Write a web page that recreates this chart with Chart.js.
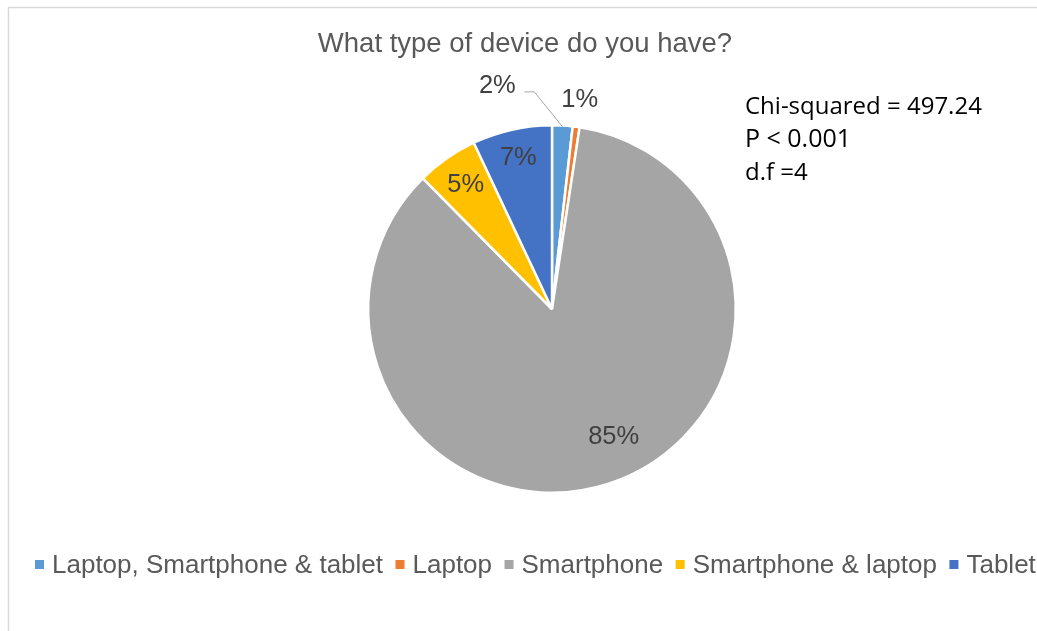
<!DOCTYPE html>
<html>
<head>
<meta charset="utf-8">
<script src="https://cdn.jsdelivr.net/npm/chart.js@4.4.1/dist/chart.umd.min.js"></script>
<style>
  html, body { margin: 0; padding: 0; background: #ffffff; overflow: hidden; }
  #wrap { position: relative; width: 1037px; height: 631px; }
  canvas { display: block; }
</style>
</head>
<body>
<div id="wrap"><canvas id="chart" width="1037" height="631"></canvas></div>
<script>
// Survey answers: share of respondents by device owned (%)
const categories = ['Laptop, Smartphone & tablet', 'Laptop', 'Smartphone', 'Smartphone & laptop', 'Tablet'];
const shares = [1.8, 0.6, 85.2, 5.4, 7.0];
const sliceColors = ['#5B9BD5', '#ED7D31', '#A5A5A5', '#FFC000', '#4472C4'];
const chartTitle = 'What type of device do you have?';
const statLines = ['Chi-squared = 497.24', 'P < 0.001', 'd.f =4'];

// Where each percentage label sits: angle offset (degrees) from the slice middle,
// fraction along the slice, and distance as a multiple of the radius.
const labelSpots = [
  { t: 0.5, r: 1.25, turn: -17, leader: true },
  { t: 0.5, r: 1.15, turn: 0 },
  { t: 0.475, r: 0.775, turn: 0 },
  { t: 0.5, r: 0.82, turn: 0 },
  { t: 0.5, r: 0.84, turn: 0 }
];

const LABEL_FONT = 'Liberation Sans, Arial, sans-serif';

const decorations = {
  id: 'decorations',
  beforeDraw(chart) {
    const ctx = chart.ctx;
    ctx.save();
    // outer frame of the chart box
    ctx.strokeStyle = '#D9D9D9';
    ctx.lineWidth = 1.5;
    ctx.beginPath();
    ctx.moveTo(8.5, 640);
    ctx.lineTo(8.5, 7.5);
    ctx.lineTo(1040, 7.5);
    ctx.stroke();

    // title
    ctx.fillStyle = '#595959';
    ctx.font = '27.5px ' + LABEL_FONT;
    ctx.textAlign = 'center';
    ctx.textBaseline = 'alphabetic';
    ctx.fillText(chartTitle, 525, 52);
    ctx.restore();
  },
  afterDatasetsDraw(chart) {
    const ctx = chart.ctx;
    const data = chart.data.datasets[0].data;
    const total = data.reduce((a, b) => a + b, 0);
    const arcs = chart.getDatasetMeta(0).data;
    ctx.save();
    ctx.font = '25.5px ' + LABEL_FONT;
    ctx.fillStyle = '#404040';
    ctx.textAlign = 'center';
    ctx.textBaseline = 'middle';
    arcs.forEach((arc, i) => {
      const p = arc.getProps(['x', 'y', 'startAngle', 'endAngle', 'outerRadius'], true);
      const spot = labelSpots[i];
      const a = p.startAngle + (p.endAngle - p.startAngle) * spot.t + spot.turn * Math.PI / 180;
      const lx = p.x + Math.cos(a) * p.outerRadius * spot.r;
      const ly = p.y + Math.sin(a) * p.outerRadius * spot.r;
      const text = Math.round(data[i] / total * 100) + '%';
      if (spot.leader) {
        const mid = (p.startAngle + p.endAngle) / 2;
        ctx.save();
        ctx.strokeStyle = '#A6A6A6';
        ctx.lineWidth = 1;
        ctx.beginPath();
        ctx.moveTo(p.x + Math.cos(mid) * (p.outerRadius - 1), p.y + Math.sin(mid) * (p.outerRadius - 1));
        ctx.lineTo(lx + 37, ly + 6);
        ctx.lineTo(lx + 27, ly + 6);
        ctx.stroke();
        ctx.restore();
      }
      ctx.fillText(text, lx, ly);
    });

    // legend row
    ctx.font = '26px ' + LABEL_FONT;
    ctx.textAlign = 'left';
    ctx.textBaseline = 'alphabetic';
    let x = 35;
    const base = 573;
    chart.data.labels.forEach((name, i) => {
      ctx.fillStyle = chart.data.datasets[0].backgroundColor[i];
      ctx.fillRect(x, base - 13, 9, 9);
      x += 17;
      ctx.fillStyle = '#595959';
      ctx.fillText(name, x, base);
      x += ctx.measureText(name).width + 12.5;
    });

    // test statistics box
    ctx.fillStyle = '#000000';
    const sizes = [24, 25, 24];
    const ys = [114, 147, 180];
    statLines.forEach((line, i) => {
      ctx.font = sizes[i] + 'px "Open Sans", sans-serif';
      ctx.fillText(line, 745, ys[i]);
    });
    ctx.restore();
  }
};

new Chart(document.getElementById('chart'), {
  type: 'pie',
  data: {
    labels: categories,
    datasets: [{
      data: shares,
      backgroundColor: sliceColors,
      borderColor: '#FFFFFF',
      borderWidth: 2.5
    }]
  },
  options: {
    responsive: false,
    animation: false,
    layout: { padding: { left: 367, right: 300, top: 124, bottom: 137 } },
    plugins: {
      legend: { display: false },
      title: { display: false },
      tooltip: { enabled: false }
    }
  },
  plugins: [decorations]
});
</script>
</body>
</html>
